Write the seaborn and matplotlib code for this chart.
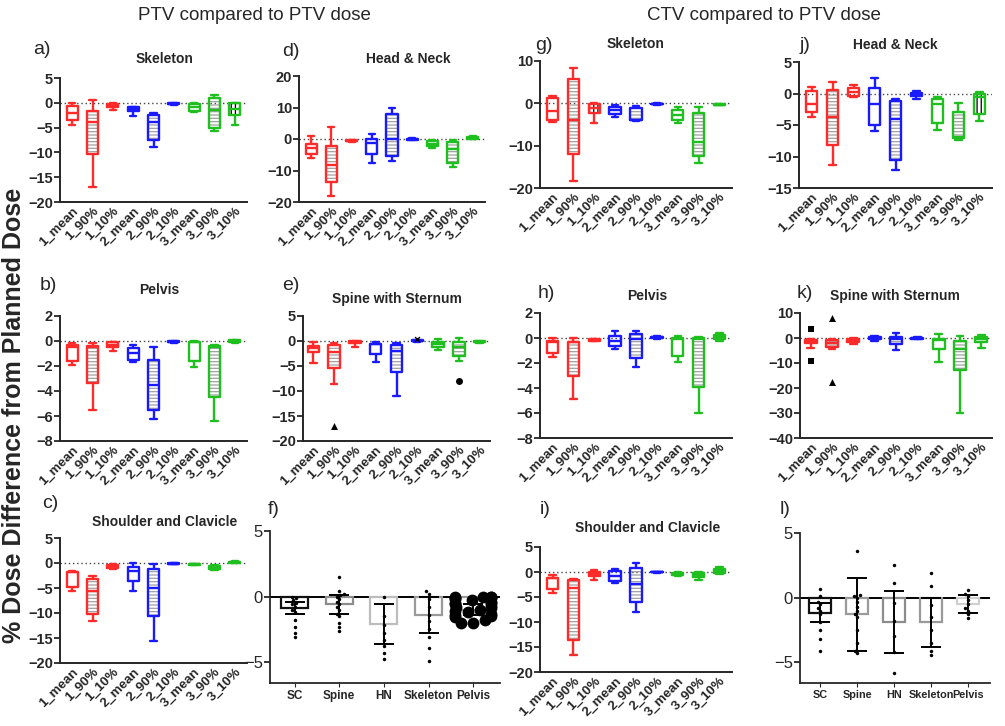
import numpy as np
import pandas as pd
import matplotlib
matplotlib.use('Agg')
import matplotlib.pyplot as plt
from matplotlib.patches import Polygon
import seaborn as sns

sns.set_style('ticks')
plt.rcParams['font.family'] = ['Liberation Sans', 'DejaVu Sans']
plt.rcParams['hatch.linewidth'] = 0.9

W, H = 1005, 726

cats = ['1_mean', '1_90%', '1_10%', '2_mean', '2_90%', '2_10%', '3_mean', '3_90%', '3_10%']
box_cols = ['#ff2b2b'] * 3 + ['#1a1aff'] * 3 + ['#1fbf1f'] * 3

# five-number summaries per box: [min, q1, median, q3, max]
a_skeleton = [[-4.4, -3.4, -2.0, -0.7, 0.0], [-16.9, -10.3, -3.8, -1.7, 0.5], [-1.5, -0.9, -0.6, -0.3, 0.0],
              [-2.6, -1.7, -1.3, -0.9, -0.9], [-9.0, -7.6, -3.8, -2.5, -2.1], [-0.35, -0.3, -0.2, -0.1, 0.0],
              [-1.8, -1.7, -0.9, -0.2, 0.0], [-5.6, -5.0, -1.5, 1.0, 1.5], [-4.4, -2.5, -1.3, -0.1, 0.0]]
d_headneck = [[-6.0, -4.7, -3.0, -1.5, 0.8], [-18.0, -13.5, -8.3, -2.3, 3.7], [-0.8, -0.7, -0.5, -0.3, -0.2],
              [-7.6, -4.9, -1.3, 0.0, 1.5], [-7.0, -5.3, 0.0, 7.8, 10.0], [-0.3, -0.2, 0.0, 0.1, 0.2],
              [-2.8, -2.3, -1.5, -0.5, -0.2], [-9.0, -7.6, -3.3, -0.8, -0.3], [0.0, 0.1, 0.4, 0.6, 0.8]]
g_skeleton = [[-4.3, -4.0, -1.9, 1.2, 1.8], [-18.3, -11.9, -4.0, 5.8, 8.4], [-4.6, -2.3, -1.1, -0.1, 0.0],
              [-3.2, -2.6, -1.6, -0.9, -0.5], [-4.2, -4.0, -3.9, -1.0, -0.7], [-0.3, -0.25, -0.15, -0.05, 0.0],
              [-4.6, -4.0, -2.8, -1.5, -0.9], [-14.0, -12.4, -9.2, -2.4, -0.8], [-0.5, -0.4, -0.3, -0.2, -0.1]]
j_headneck = [[-3.7, -3.0, -1.7, 0.4, 1.0], [-11.3, -8.2, -3.7, 0.5, 1.8], [-0.6, -0.4, 0.3, 0.8, 1.3],
              [-6.0, -5.0, -1.7, 0.8, 2.4], [-12.1, -10.5, -4.1, -1.2, -0.9], [-0.8, -0.4, -0.2, 0.1, 0.4],
              [-5.8, -4.7, -1.6, -0.8, -0.6], [-7.4, -7.0, -6.9, -3.0, -1.5], [-4.4, -3.3, -0.5, 0.0, 0.2]]
b_pelvis = [[-1.9, -1.6, -0.5, -0.3, -0.2], [-5.5, -3.4, -0.5, -0.4, -0.2], [-0.8, -0.5, -0.3, -0.1, -0.1],
            [-1.7, -1.5, -1.0, -0.6, -0.3], [-6.2, -5.5, -3.5, -1.5, -0.5], [-0.15, -0.12, -0.08, -0.03, 0.0],
            [-2.1, -1.6, -0.1, -0.05, 0.0], [-6.4, -4.5, -0.5, -0.4, -0.3], [-0.2, -0.1, 0.0, 0.05, 0.1]]
e_spine = [[-4.4, -2.2, -1.5, -1.0, -0.3], [-8.6, -5.4, -2.3, -0.8, -0.5], [-1.2, -0.4, -0.2, -0.1, 0.0],
           [-4.2, -2.6, -0.7, -0.6, -0.2], [-11.0, -6.2, -2.0, -0.9, -0.5], [-0.3, -0.1, 0.0, 0.1, 0.2],
           [-1.9, -1.2, -0.6, -0.3, 0.4], [-4.0, -3.0, -1.3, -0.2, 0.6], [-0.4, -0.3, -0.2, -0.1, 0.0]]
h_pelvis = [[-1.5, -1.2, -0.3, -0.2, 0.0], [-4.9, -3.0, -0.35, -0.3, 0.0], [-0.25, -0.2, -0.15, -0.1, -0.05],
            [-0.9, -0.6, -0.2, 0.2, 0.6], [-2.3, -1.6, -0.1, 0.3, 0.6], [-0.05, 0.0, 0.05, 0.1, 0.15],
            [-1.9, -1.4, -0.05, 0.0, 0.2], [-6.0, -3.9, -0.1, 0.0, 0.1], [-0.2, -0.1, 0.1, 0.25, 0.4]]
k_spine = [[-3.8, -1.8, -1.5, -0.8, -0.5], [-4.3, -3.4, -2.0, -0.8, -0.5], [-2.4, -1.6, -1.0, -0.3, 0.0],
           [-1.0, -0.5, -0.1, 0.3, 1.0], [-4.8, -2.2, -0.5, 0.3, 2.0], [-0.3, -0.2, 0.0, 0.2, 0.3],
           [-9.7, -4.4, -0.8, -0.5, 1.5], [-30.0, -12.6, -4.4, -1.3, 1.0], [-3.8, -1.6, -0.5, 0.5, 1.3]]
c_shoulder = [[-5.6, -4.7, -1.8, -1.7, -1.5], [-11.5, -10.2, -5.6, -3.1, -2.6], [-1.1, -0.9, -0.6, -0.4, -0.2],
              [-5.6, -3.5, -1.5, -0.8, 0.0], [-15.5, -10.5, -5.0, -1.2, -0.2], [-0.25, -0.2, -0.1, -0.05, 0.0],
              [-0.4, -0.35, -0.25, -0.15, -0.1], [-1.3, -1.1, -0.8, -0.5, -0.3], [0.0, 0.1, 0.2, 0.3, 0.4]]
i_shoulder = [[-4.1, -3.4, -1.2, -1.1, -0.6], [-16.6, -13.5, -3.1, -1.5, -1.3], [-1.5, -0.8, -0.4, 0.0, 0.4],
              [-2.2, -1.8, -0.8, 0.2, 0.7], [-7.9, -5.9, -2.3, 0.8, 1.8], [-0.1, -0.05, 0.0, 0.05, 0.1],
              [-0.8, -0.6, -0.3, -0.1, 0.0], [-1.5, -0.9, -0.5, -0.2, 0.0], [-0.3, -0.1, 0.2, 0.6, 1.0]]

# single points outside the whiskers
e_out_cat = ['1_90%', '2_10%', '3_90%']
e_out_val = [-17.0, 0.3, -8.0]
e_out_mark = ['^', 'x', 'o']
k_out_cat = ['1_mean', '1_mean', '1_90%', '1_90%']
k_out_val = [3.5, -9.2, 8.0, -17.5]
k_out_mark = ['s', 's', '^', '^']

# bar panels
bar_cats = ['SC', 'Spine', 'HN', 'Skeleton', 'Pelvis']
f_means = [-0.9, -0.6, -2.1, -1.4, -1.0]
f_err = [0.45, 0.75, 1.5, 1.4, 0.4]
f_edge = ['#111111', '#8c8c8c', '#bdbdbd', '#9a9a9a', '#9a9a9a']
f_points = {
    'SC': [0.0, -0.1, -0.3, -0.5, -0.6, -0.8, -1.0, -1.2, -1.8, -2.3, -2.8, -3.1],
    'Spine': [1.5, 0.4, 0.2, 0.1, 0.0, -0.2, -0.4, -0.6, -0.8, -1.0, -1.3, -1.5, -2.0, -2.3, -2.6],
    'HN': [0.0, -1.5, -2.2, -2.8, -3.3, -3.8, -4.3, -4.8],
    'Skeleton': [0.4, 0.2, -0.2, -0.8, -1.4, -1.9, -2.5, -3.1, -3.9, -4.9],
}
f_pelvis_points = [0.0, 0.0, 0.0, -0.05, -0.1, -0.15, -0.2, -0.3, -0.4, -0.5, -0.5, -0.6, -0.7,
                   -0.8, -0.9, -1.0, -1.1, -1.2, -1.3, -1.4, -1.5, -1.6, -1.8, -2.0, -2.0]
l_means = [-1.15, -1.3, -1.9, -1.9, -0.5]
l_err = [0.75, 2.8, 2.4, 1.9, 0.7]
l_edge = ['#111111', '#9a9a9a', '#8c8c8c', '#9a9a9a', '#cfcfcf']
l_points = {
    'SC': [0.7, 0.1, -0.3, -0.5, -0.8, -1.0, -1.3, -1.9, -2.5, -3.2, -4.1],
    'Spine': [3.6, 0.2, 0.1, 0.0, -0.3, -0.7, -1.0, -1.3, -1.5, -2.5, -3.5, -4.1, -4.3],
    'HN': [2.5, 1.1, -0.4, -1.8, -3.0, -4.2, -5.8],
    'Skeleton': [1.9, 0.9, -0.6, -1.5, -2.5, -3.5, -4.1, -4.4],
    'Pelvis': [0.6, 0.3, 0.1, -0.2, -0.5, -0.8, -1.0, -1.3, -1.6],
}


def px(l, r, t, b):
    return [l / W, 1 - b / H, (r - l) / W, (b - t) / H]


def box_panel(ax, stats, lo, hi, step, vhatch=()):
    df = pd.DataFrame([(c, v) for c, s in zip(cats, stats) for v in s], columns=['cat', 'val'])
    ax.axhline(0, color='#444444', ls=(0, (1, 2)), lw=1, zorder=0)
    sns.boxplot(data=df, x='cat', y='val', hue='cat', order=cats, hue_order=cats,
                palette=box_cols, fill=False, whis=(0, 100), width=0.55, linewidth=1.7,
                legend=False, ax=ax)
    for k, cont in enumerate(ax.containers):
        box = cont.boxes[0]
        xy = box.get_xydata()
        if cats[k].endswith('90%'):
            ax.add_patch(Polygon(xy, closed=True, facecolor='none', edgecolor='#a0a0a0',
                                 lw=0, hatch='-----', zorder=1.5))
        if k in vhatch:
            ax.add_patch(Polygon(xy, closed=True, facecolor='none', edgecolor='black',
                                 lw=0, hatch='||||', zorder=1.5))
        for cap in cont.caps:
            mid = np.mean(cap.get_xdata())
            cap.set_xdata([mid - 0.15, mid + 0.15])
    ax.set_ylim(lo, hi)
    ax.set_yticks(np.arange(lo, hi + step / 2, step))
    ax.set_xlim(-0.6, 8.6)
    ax.set_xlabel('')
    ax.set_ylabel('')
    ax.set_xticks(range(len(cats)))
    ax.set_xticklabels(cats, rotation=45, ha='right', rotation_mode='anchor',
                       fontsize=9.5, fontweight='bold')
    ax.tick_params(axis='x', length=0, pad=2)
    ax.tick_params(axis='y', length=4, width=1.3, labelsize=10.5, pad=1)
    for t in ax.get_yticklabels():
        t.set_fontweight('bold')
    sns.despine(ax=ax)
    for s in ['left', 'bottom']:
        ax.spines[s].set_linewidth(1.4)


def outliers(ax, cat_list, vals, marks):
    for c, v, m in zip(cat_list, vals, marks):
        sns.stripplot(x=[c], y=[v], order=cats, jitter=False, marker=m, color='black',
                      size=3.5 if m == 'x' else 5, linewidth=1.0 if m == 'x' else 0,
                      edgecolor='black', ax=ax)


def bar_panel(ax, means, errs, edges, points, big=None, labsize=9):
    sns.barplot(x=bar_cats, y=means, order=bar_cats, hue=bar_cats, palette=edges,
                fill=False, errorbar=None, width=0.6, linewidth=1.6, legend=False, ax=ax)
    ax.axhline(0, color='black', lw=1.4, zorder=0.5)
    ax.errorbar(range(len(bar_cats)), means, yerr=errs, fmt='none', ecolor='black',
                elinewidth=1.4, capsize=7, capthick=1.4, zorder=3)
    pts = pd.DataFrame([(c, v) for c, vs in points.items() for v in vs], columns=['cat', 'val'])
    sns.swarmplot(data=pts, x='cat', y='val', order=bar_cats, color='black', size=2.5, ax=ax)
    if big is not None:
        sns.swarmplot(x=['Pelvis'] * len(big), y=big, order=bar_cats, color='black', size=8.5, ax=ax)
    ax.set_ylim(-6.6, 5)
    ax.set_yticks([5, 0, -5])
    ax.set_xlim(-0.55, 4.6)
    ax.set_xlabel('')
    ax.set_ylabel('')
    ax.set_xticks(range(len(bar_cats)))
    ax.set_xticklabels(bar_cats, fontsize=labsize, fontweight='bold')
    ax.tick_params(axis='x', length=3, pad=2)
    ax.tick_params(axis='y', length=4, width=1.3, labelsize=12, pad=1)
    sns.despine(ax=ax)
    for s in ['left', 'bottom']:
        ax.spines[s].set_linewidth(1.3)


fig = plt.figure(figsize=(W / 100, H / 100), dpi=100)

ax_a = fig.add_axes(px(60, 247, 78, 202))
box_panel(ax_a, a_skeleton, -20, 5, 5, vhatch=(8,))
ax_d = fig.add_axes(px(299, 485, 76, 202))
box_panel(ax_d, d_headneck, -20, 20, 10)
ax_g = fig.add_axes(px(540, 732, 61, 188))
box_panel(ax_g, g_skeleton, -20, 10, 10, vhatch=(2,))
ax_j = fig.add_axes(px(799, 992, 62, 188))
box_panel(ax_j, j_headneck, -15, 5, 5, vhatch=(8,))

ax_b = fig.add_axes(px(60, 247, 316, 441))
box_panel(ax_b, b_pelvis, -8, 2, 2)
ax_e = fig.add_axes(px(303, 490, 316, 441))
box_panel(ax_e, e_spine, -20, 5, 5)
outliers(ax_e, e_out_cat, e_out_val, e_out_mark)
ax_h = fig.add_axes(px(540, 732, 313, 438))
box_panel(ax_h, h_pelvis, -8, 2, 2)
ax_k = fig.add_axes(px(800, 992, 313, 438))
box_panel(ax_k, k_spine, -40, 10, 10)
outliers(ax_k, k_out_cat, k_out_val, k_out_mark)

ax_c = fig.add_axes(px(60, 247, 538, 663))
box_panel(ax_c, c_shoulder, -20, 5, 5)
ax_i = fig.add_axes(px(540, 732, 547, 672))
box_panel(ax_i, i_shoulder, -20, 5, 5)

ax_f = fig.add_axes(px(270, 500, 531, 683))
bar_panel(ax_f, f_means, f_err, f_edge, f_points, big=f_pelvis_points, labsize=8.5)
ax_l = fig.add_axes(px(800, 990, 533, 683))
bar_panel(ax_l, l_means, l_err, l_edge, l_points, labsize=7.8)

# titles and panel letters
titles = [('Skeleton', 165, 59), ('Head & Neck', 408, 59), ('Skeleton', 636, 44), ('Head & Neck', 895, 45),
          ('Pelvis', 159, 290), ('Spine with Sternum', 397, 299), ('Pelvis', 647, 296),
          ('Spine with Sternum', 895, 296), ('Shoulder and Clavicle', 165, 522),
          ('Shoulder and Clavicle', 648, 528)]
for t, x, y in titles:
    fig.text(x / W, 1 - y / H, t, ha='center', va='center', fontsize=10, fontweight='bold')

letters = [('a)', 33, 50), ('d)', 282, 52), ('g)', 535, 45), ('j)', 800, 45),
           ('b)', 40, 285), ('e)', 282, 285), ('h)', 538, 293), ('k)', 797, 293),
           ('c)', 42, 503), ('f)', 268, 510), ('i)', 540, 510), ('l)', 780, 510)]
for t, x, y in letters:
    fig.text(x / W, 1 - y / H, t, ha='left', va='center', fontsize=14)

fig.text(254 / W, 1 - 15 / H, 'PTV compared to PTV dose', ha='center', va='center', fontsize=13.5)
fig.text(764 / W, 1 - 15 / H, 'CTV compared to PTV dose', ha='center', va='center', fontsize=13.5)
fig.text(14 / W, 1 - 415 / H, '% Dose Difference from Planned Dose', rotation=90,
         ha='center', va='center', fontsize=18, fontweight='bold')

fig.savefig('out.png', dpi=100)
